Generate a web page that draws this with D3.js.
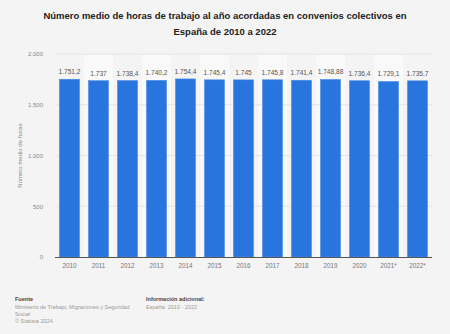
<!DOCTYPE html>
<html>
<head>
<meta charset="utf-8">
<script src="https://cdn.jsdelivr.net/npm/d3@7"></script>
<style>
  body { margin: 0; background: #f4f4f4; }
  svg { display: block; font-family: "Liberation Sans", Arial, sans-serif; }
</style>
</head>
<body>
<svg id="chart" width="450" height="334"></svg>
<script>
const years = [`2010`, `2011`, `2012`, `2013`, `2014`, `2015`, `2016`, `2017`, `2018`, `2019`, `2020`, `2021*`, `2022*`];
const hours = [1751.2, 1737, 1738.4, 1740.2, 1754.4, 1745.4, 1745, 1745.8, 1741.4, 1748.88, 1736.4, 1729.1, 1735.7];
const yTicks = [0, 500, 1000, 1500, 2000];
const titleLines = [`Número medio de horas de trabajo al año acordadas en convenios colectivos en`, `España de 2010 a 2022`];

const es = d3.formatLocale({ decimal: `,`, thousands: `.`, grouping: [3], currency: [``, ` €`] });
const fmtLabel = es.format(`,.2~f`);
const fmtTick = es.format(`,`);

const svg = d3.select(`#chart`);
const margin = { left: 55, right: 18, top: 54, bottom: 77 };
const width = 450, height = 334;

const x = d3.scaleBand()
  .domain(years)
  .range([margin.left, width - margin.right])
  .paddingInner(0.31)
  .paddingOuter(0.155);

const y = d3.scaleLinear()
  .domain([0, 2000])
  .range([height - margin.bottom, margin.top]);

// title
svg.append(`g`)
  .selectAll(`text`)
  .data(titleLines)
  .enter().append(`text`)
    .attr(`x`, width / 2)
    .attr(`y`, (d, i) => 19 + i * 16)
    .attr(`text-anchor`, `middle`)
    .style(`font-size`, `9.5px`)
    .style(`font-weight`, `bold`)
    .style(`fill`, `#222`)
    .text(d => d);

// alternating column shading
const step = x.step();
svg.append(`g`)
  .selectAll(`rect`)
  .data(years.filter((d, i) => i % 2 === 1))
  .enter().append(`rect`)
    .attr(`x`, d => x(d) - step * x.paddingInner() / 2)
    .attr(`y`, y(2000))
    .attr(`width`, step)
    .attr(`height`, y(0) - y(2000))
    .style(`fill`, `#f9f9f9`);

// grid
svg.append(`g`)
  .selectAll(`line`)
  .data(yTicks.slice(1))
  .enter().append(`line`)
    .attr(`x1`, margin.left)
    .attr(`x2`, width - margin.right)
    .attr(`y1`, d => y(d))
    .attr(`y2`, d => y(d))
    .style(`stroke`, `#e4e4e4`)
    .style(`stroke-width`, 1);

// y axis
const yAxis = svg.append(`g`)
  .attr(`transform`, `translate(${margin.left - 9},0)`)
  .call(d3.axisLeft(y).tickValues(yTicks).tickFormat(fmtTick).tickSize(0));
yAxis.select(`.domain`).remove();
yAxis.selectAll(`text`)
  .style(`font-size`, `6px`)
  .style(`fill`, `#888`)
  .style(`font-family`, `"Liberation Sans", Arial, sans-serif`);

svg.append(`text`)
  .attr(`transform`, `translate(22,${y(1000)}) rotate(-90)`)
  .attr(`text-anchor`, `middle`)
  .style(`font-size`, `6px`)
  .style(`fill`, `#888`)
  .text(`Número medio de horas`);

// bars
svg.append(`g`)
  .selectAll(`rect`)
  .data(hours)
  .enter().append(`rect`)
    .attr(`x`, (d, i) => x(years[i]))
    .attr(`y`, d => y(d))
    .attr(`width`, x.bandwidth())
    .attr(`height`, d => y(0) - y(d))
    .style(`fill`, `#2876dd`)
    .style(`stroke`, `#4a8ce6`)
    .style(`stroke-width`, 0.6);

// value labels
svg.append(`g`)
  .selectAll(`text`)
  .data(hours)
  .enter().append(`text`)
    .attr(`x`, (d, i) => x(years[i]) + x.bandwidth() / 2)
    .attr(`y`, d => y(d) - 5)
    .attr(`text-anchor`, `middle`)
    .style(`font-size`, `6.6px`)
    .style(`fill`, `#555`)
    .text(d => fmtLabel(d));

// x axis
const xAxis = svg.append(`g`)
  .attr(`transform`, `translate(0,${y(0)})`)
  .call(d3.axisBottom(x).tickSize(0).tickPadding(7));
xAxis.select(`.domain`)
  .attr(`d`, `M${margin.left},0.5H${width - margin.right}`)
  .style(`stroke`, `#555`)
  .style(`stroke-width`, 1);
xAxis.selectAll(`text`)
  .style(`font-size`, `6.3px`)
  .style(`fill`, `#777`)
  .style(`font-family`, `"Liberation Sans", Arial, sans-serif`);

// footer
const footer = svg.append(`g`).style(`font-size`, `5.5px`);
footer.append(`text`).attr(`x`, 15).attr(`y`, 301).style(`font-weight`, `bold`).style(`fill`, `#444`).text(`Fuente`);
[`Ministerio de Trabajo, Migraciones y Seguridad`, `Social`, `© Statista 2024`].forEach((t, i) => {
  footer.append(`text`).attr(`x`, 15).attr(`y`, 308.5 + i * 7.2).style(`fill`, `#999`).text(t);
});
footer.append(`text`).attr(`x`, 146).attr(`y`, 301).style(`font-weight`, `bold`).style(`fill`, `#444`).text(`Información adicional:`);
footer.append(`text`).attr(`x`, 146).attr(`y`, 308.5).style(`fill`, `#999`).text(`España: 2010 - 2022`);
</script>
</body>
</html>
